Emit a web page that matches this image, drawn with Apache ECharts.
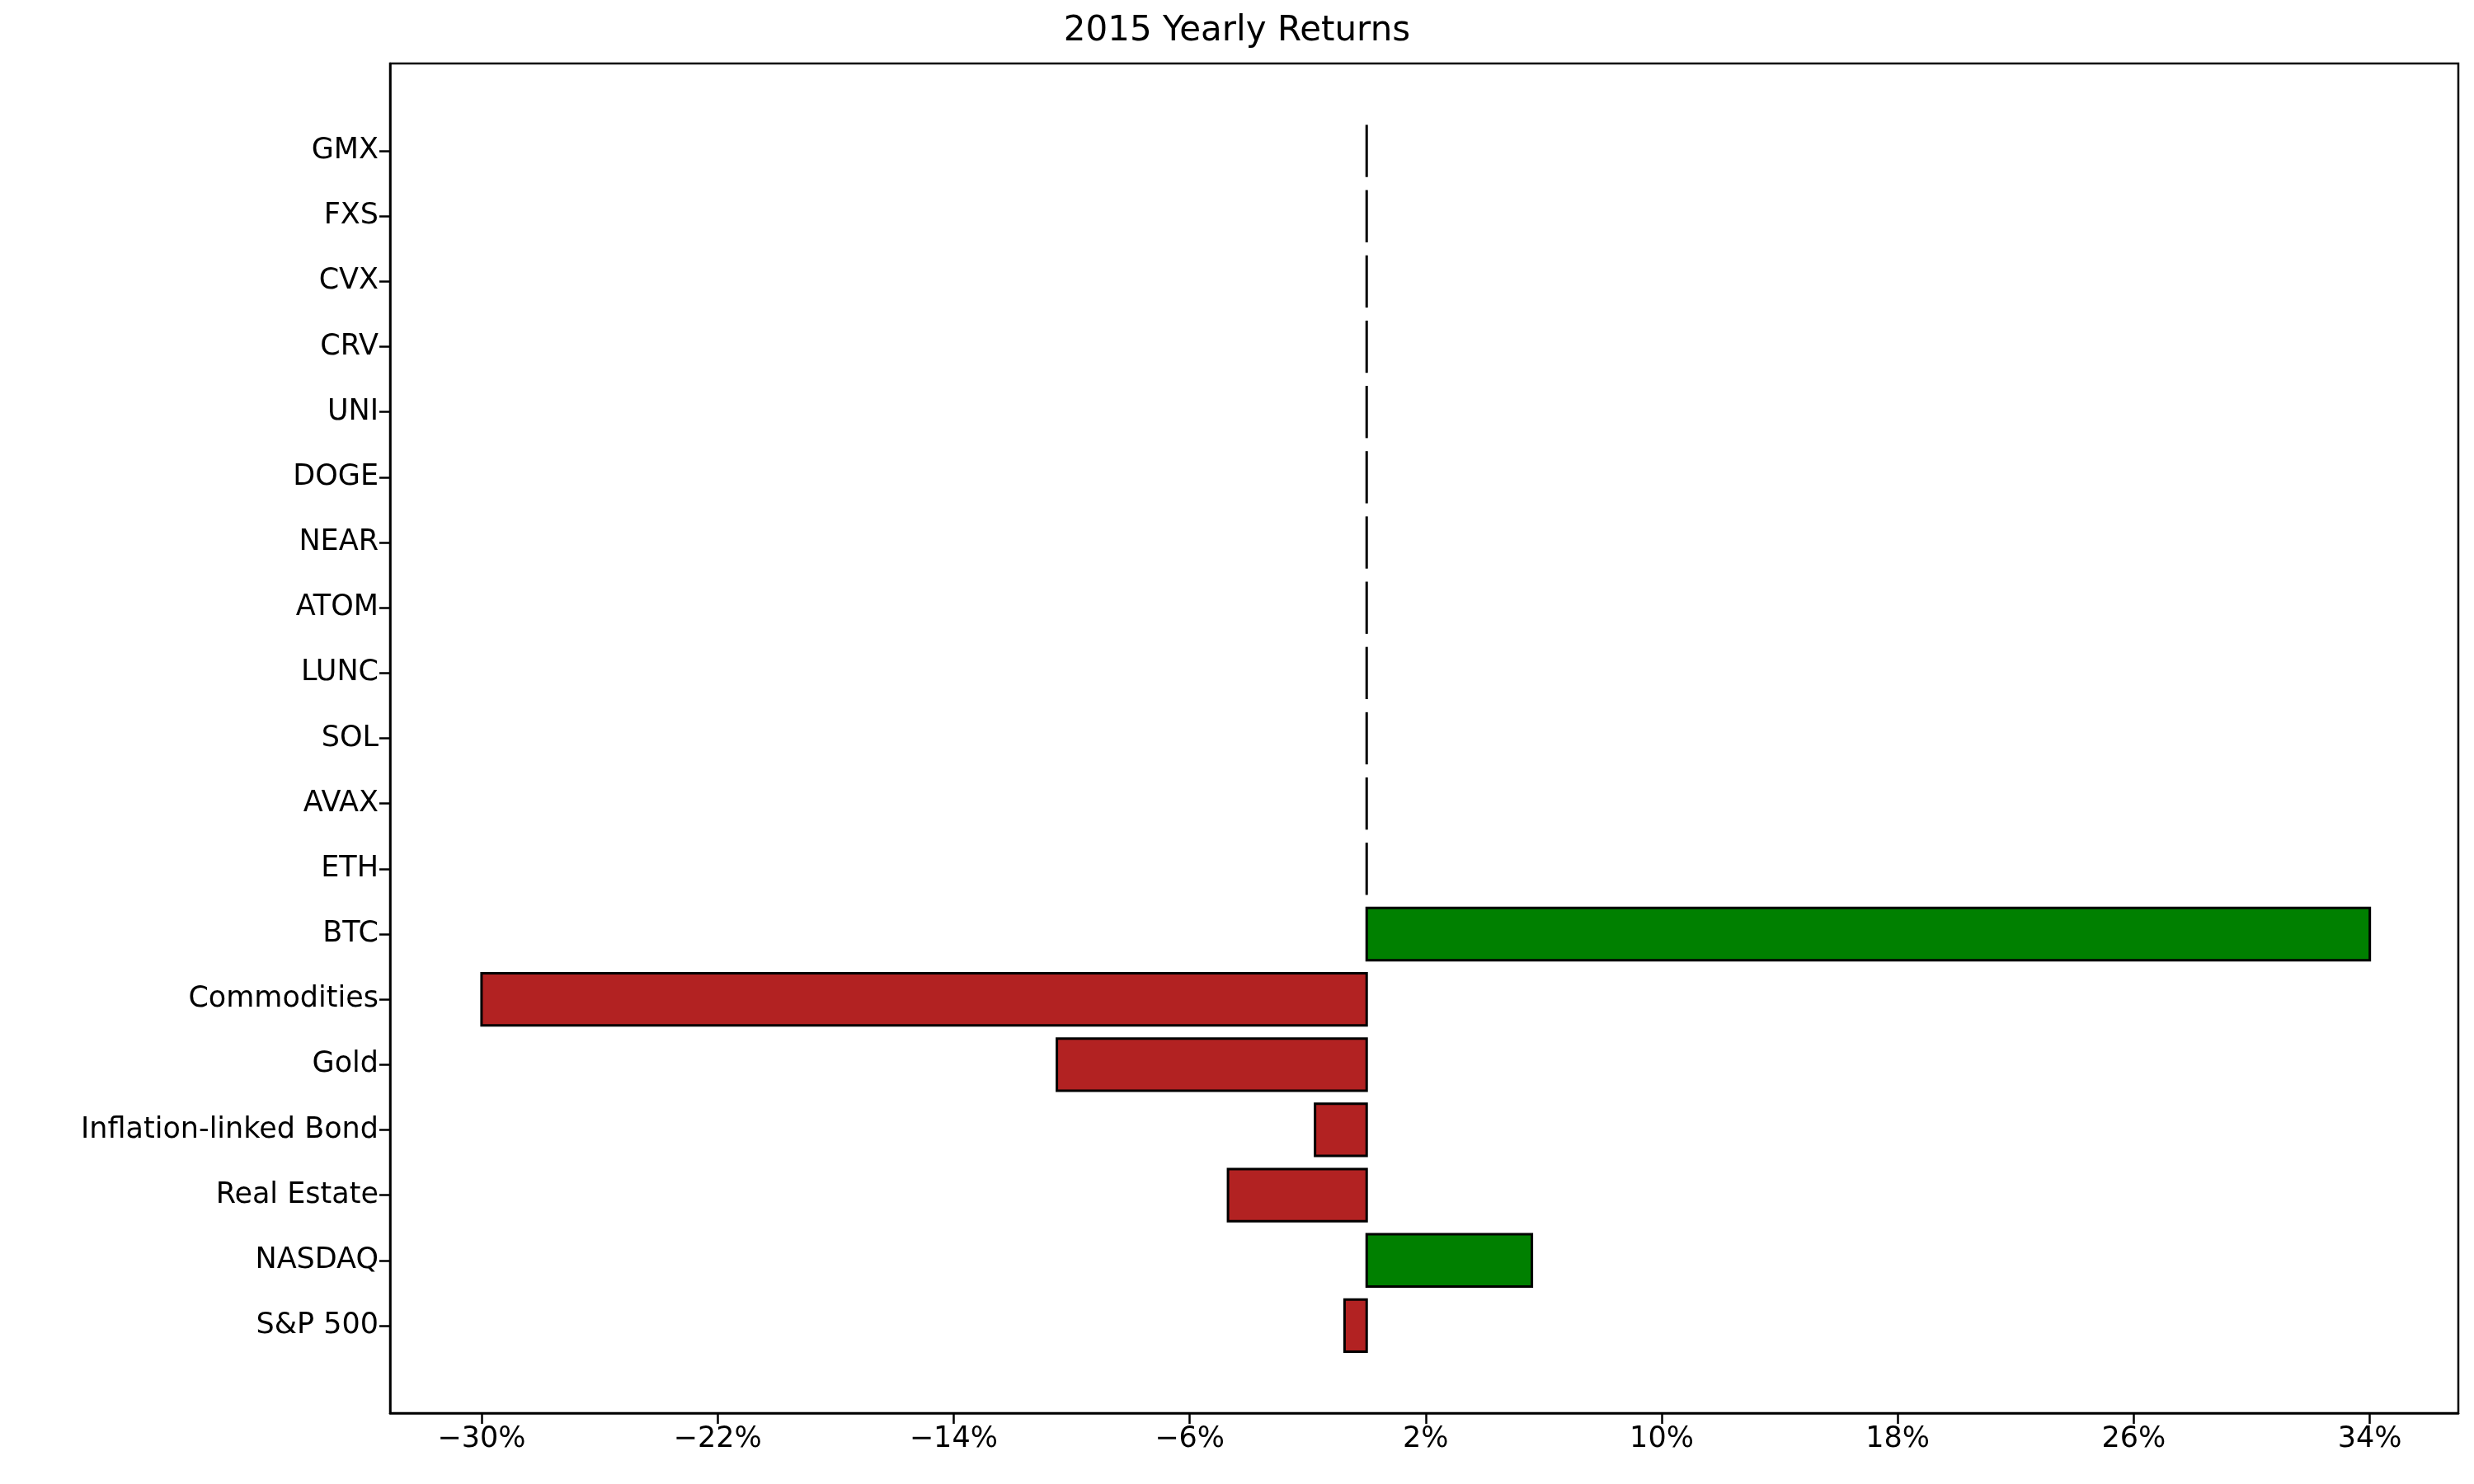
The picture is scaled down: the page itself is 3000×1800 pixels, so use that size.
<!DOCTYPE html>
<html><head><meta charset="utf-8">
<script src="https://cdn.jsdelivr.net/npm/echarts@6/dist/echarts.min.js"></script>
<style>html,body{margin:0;padding:0;background:#fff}#c{width:3000px;height:1800px}</style>
</head><body><div id="c"></div>
<script>
const categories = ["S&P 500","NASDAQ","Real Estate","Inflation-linked Bond","Gold","Commodities","BTC","ETH","AVAX","SOL","LUNC","ATOM","NEAR","DOGE","UNI","CRV","CVX","FXS","GMX"];
const returns = [-0.75, 5.6, -4.7, -1.75, -10.5, -30, 34, 0,0,0,0,0,0,0,0,0,0,0,0];
const xTicks = [-30,-22,-14,-6,2,10,18,26,34];
const yTicks = categories.map((c,i)=>i);
const font = 'DejaVu Sans';
const chart = echarts.init(document.getElementById('c'));
chart.setOption({
  animation:false,
  title:{text:'2015 Yearly Returns',left:'center',top:12,textStyle:{fontFamily:font,fontSize:42,fontWeight:'normal',color:'#000'}},
  grid:{left:473,right:19,top:77,bottom:86},
  xAxis:{type:'value',min:-33.1,max:37,
    axisLine:{show:true,onZero:false,lineStyle:{color:'#000',width:2.5}},
    axisTick:{show:true,customValues:xTicks,length:13,lineStyle:{color:'#000',width:2.5}},
    axisLabel:{customValues:xTicks,formatter:v=>(v<0?'\u2212'+(-v):v)+'%',fontFamily:font,fontSize:35,color:'#000',margin:14},
    splitLine:{show:false}},
  yAxis:{type:'value',min:-1.34,max:19.34,
    axisLine:{show:true,onZero:false,lineStyle:{color:'#000',width:2.5}},
    axisTick:{show:true,customValues:yTicks,length:13,lineStyle:{color:'#000',width:2.5}},
    axisLabel:{customValues:yTicks,formatter:v=>categories[Math.round(v)],fontFamily:font,fontSize:35,color:'#000',margin:14},
    splitLine:{show:false}},
  graphic:[{type:'rect',shape:{x:473,y:77,width:3000-473-19,height:1800-77-86},style:{fill:'none',stroke:'#000',lineWidth:2.5},z:100}],
  series:[{type:'custom',
    data:returns.map((v,i)=>[v,i]),
    renderItem:function(params,api){
      const v=api.value(0), i=api.value(1);
      const p0=api.coord([0,i]), p1=api.coord([v,i]);
      const h=api.size([0,0.8])[1];
      if(v===0){
        return {type:'line',shape:{x1:p0[0],y1:p0[1]-h/2,x2:p0[0],y2:p0[1]+h/2},style:{stroke:'#000',lineWidth:3}};
      }
      const x=Math.min(p0[0],p1[0]);
      return {type:'rect',shape:{x:x,y:p0[1]-h/2,width:Math.abs(p1[0]-p0[0]),height:h},
        style:{fill:v>0?'#008000':'#b22222',stroke:'#000',lineWidth:3}};
    }}]
});
</script></body></html>
